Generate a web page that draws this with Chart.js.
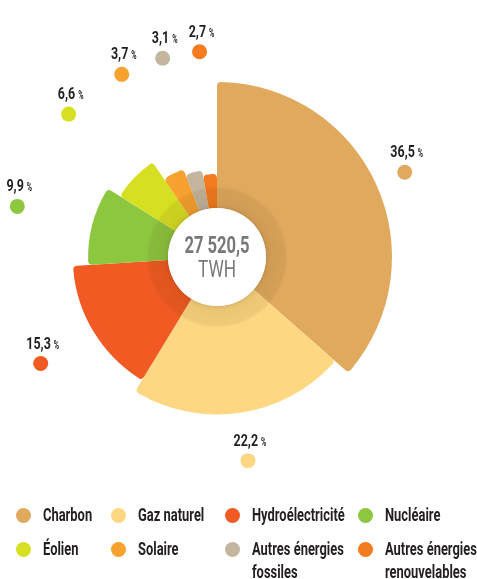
<!DOCTYPE html>
<html>
<head>
<meta charset="utf-8">
<script src="https://cdn.jsdelivr.net/npm/chart.js@4"></script>
<style>
  html, body { margin: 0; padding: 0; background: #fff; }
  #wrap { position: relative; width: 477px; height: 579px; overflow: hidden; }
  .item { position: absolute; font-family: Roboto, sans-serif; font-weight: bold; font-size: 19px; line-height: 23px; color: #231f20; white-space: nowrap; }
  .dot { position: absolute; left: 0; top: 5px; width: 15px; height: 15px; border-radius: 50%; }
  .txt { position: absolute; left: 27px; top: 0; display: inline-block; transform: scaleX(0.68); transform-origin: 0 0; }
</style>
</head>
<body>
<div id="wrap">
  <canvas id="chart" width="477" height="579"></canvas>
  <div id="legend"></div>
</div>
<script>
    // Données : production mondiale d'électricité par source
    const labels = ["Charbon", "Gaz naturel", "Hydroélectricité", "Nucléaire", "Éolien", "Solaire", "Autres énergies fossiles", "Autres énergies renouvelables"];
    const legendLabels = ["Charbon", "Gaz naturel", "Hydroélectricité", "Nucléaire", "Éolien", "Solaire", "Autres énergies<br>fossiles", "Autres énergies<br>renouvelables"];
    const shares = [36.5, 22.2, 15.3, 9.9, 6.6, 3.7, 3.1, 2.7]; // en %
    const colors = ["#E0A95E", "#FDD781", "#F15A22", "#8DC63F", "#D7DF23", "#F7A12F", "#C4B59F", "#F47B20"];
    const total = "27 520,5";
    const unit = "TWH";

    const fontFamily = 'Roboto, sans-serif';

    // rayon de chaque part : échelle logarithmique sur la valeur
    const rMinPx = 83, rMaxPx = 175, holePx = 49;
    function radiusFor(v) {
        const lo = Math.log(Math.min(...shares)), hi = Math.log(Math.max(...shares));
        return rMinPx + (rMaxPx - rMinPx) * (Math.log(v) - lo) / (hi - lo);
    }

    // texte étroit (police condensée simulée)
    function narrowText(ctx, text, x, y, sx) {
        ctx.save();
        ctx.translate(x, y);
        ctx.scale(sx, 1);
        ctx.fillText(text, 0, 0);
        ctx.restore();
    }

    const radiusPlugin = {
        id: 'radiusPlugin',
        afterDatasetsUpdate(chart) {
            const meta = chart.getDatasetMeta(0);
            meta.data.forEach((arc, i) => {
                arc.outerRadius = radiusFor(shares[i]);
            });
        },
        afterDatasetsDraw(chart) {
            const ctx = chart.ctx;
            const meta = chart.getDatasetMeta(0);
            const cx = meta.data[0].x, cy = meta.data[0].y;

            // anneau sombre autour du centre
            ctx.save();
            const g = ctx.createRadialGradient(cx, cy, holePx, cx, cy, 71);
            g.addColorStop(0, 'rgba(70,40,0,0.10)');
            g.addColorStop(0.85, 'rgba(70,40,0,0.08)');
            g.addColorStop(1, 'rgba(70,40,0,0.0)');
            ctx.beginPath();
            ctx.arc(cx, cy, 71, 0, Math.PI * 2);
            ctx.arc(cx, cy, holePx, 0, Math.PI * 2, true);
            ctx.fillStyle = g;
            ctx.fill();

            // disque blanc central
            ctx.beginPath();
            ctx.arc(cx, cy, holePx, 0, Math.PI * 2);
            ctx.shadowColor = 'rgba(0,0,0,0.15)';
            ctx.shadowBlur = 5;
            ctx.fillStyle = '#fff';
            ctx.fill();
            ctx.shadowBlur = 0;

            ctx.fillStyle = '#77787B';
            ctx.textAlign = 'center';
            ctx.textBaseline = 'alphabetic';
            ctx.font = 'bold 23px ' + fontFamily;
            narrowText(ctx, total, cx, cy - 4, 0.72);
            ctx.font = '23px ' + fontFamily;
            narrowText(ctx, unit, cx, cy + 20, 0.75);

            // étiquettes de pourcentage avec pastille
            meta.data.forEach((arc, i) => {
                const mid = (arc.startAngle + arc.endAngle) / 2;
                const px = cx + Math.cos(mid) * 206;
                const py = cy + Math.sin(mid) * 206;
                ctx.beginPath();
                ctx.arc(px, py, 7.5, 0, Math.PI * 2);
                ctx.fillStyle = colors[i];
                ctx.fill();

                const num = shares[i].toFixed(1).replace('.', ',');
                const sx = 0.78;
                ctx.font = 'bold 16px ' + fontFamily;
                const w1 = ctx.measureText(num).width * sx + 3;
                ctx.font = 'bold 12px ' + fontFamily;
                const w2 = ctx.measureText('%').width * 0.6;
                const x0 = px + 2 - (w1 + w2) / 2;
                ctx.textAlign = 'left';
                ctx.fillStyle = '#231F20';
                ctx.font = 'bold 16px ' + fontFamily;
                narrowText(ctx, num, x0, py - 15, sx);
                ctx.font = 'bold 12px ' + fontFamily;
                narrowText(ctx, '%', x0 + w1, py - 15, 0.6);
            });
            ctx.restore();
        }
    };

    const data = {
        labels: labels,
        datasets: [{
            data: shares,
            backgroundColor: colors,
            borderWidth: 0,
            borderRadius: { outerStart: 4, outerEnd: 4, innerStart: 0, innerEnd: 0 }
        }]
    };

    const config = {
        type: 'doughnut',
        data: data,
        options: {
            responsive: false,
            animation: false,
            events: [],
            cutout: holePx,
            layout: { padding: { left: 0, right: 43, top: 0, bottom: 65 } },
            plugins: {
                legend: { display: false },
                tooltip: { enabled: false },
                title: { display: false }
            }
        },
        plugins: [radiusPlugin]
    };

    new Chart(document.getElementById('chart').getContext('2d'), config);

    // légende HTML (4 colonnes, libellés sur deux lignes)
    const colX = [16, 111, 225, 358];
    const rowY = [503, 537];
    const legendEl = document.getElementById('legend');
    legendLabels.forEach((lab, i) => {
        const item = document.createElement('div');
        item.className = 'item';
        item.style.left = colX[i % 4] + 'px';
        item.style.top = rowY[Math.floor(i / 4)] + 'px';
        item.innerHTML = '<span class="dot" style="background:' + colors[i] + '"></span><span class="txt">' + lab + '</span>';
        legendEl.appendChild(item);
    });
</script>
</body>
</html>
